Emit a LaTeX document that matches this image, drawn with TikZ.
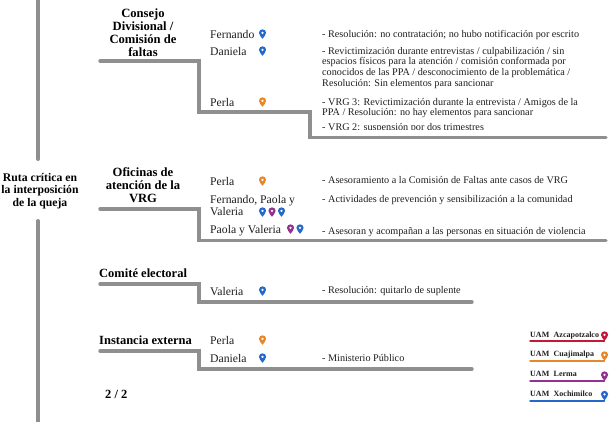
\documentclass[tikz,border=0pt]{standalone}
\usepackage{fontspec}
\setmainfont{Liberation Serif}
\definecolor{railgray}{HTML}{8F8F8F}
\definecolor{uamblue}{HTML}{2469C8}
\definecolor{uamorange}{HTML}{E8872A}
\definecolor{uampurple}{HTML}{94308F}
\definecolor{uamred}{HTML}{C0193A}
\definecolor{inktext}{HTML}{1E1E1E}
\tikzset{
  rail/.style={draw=railgray,line width=3.4pt,line join=miter,line cap=round},
  trunk/.style={draw=railgray,line width=4pt,line cap=round},
  head/.style={inner sep=0pt,align=center,font=\fontsize{12.6}{13}\selectfont\bfseries,text=black},
  headr/.style={inner sep=0pt,align=center,font=\fontsize{11.7}{12.5}\selectfont\bfseries,text=black},
  headl/.style={inner sep=0pt,anchor=base west,font=\fontsize{12.5}{13}\selectfont\bfseries,text=black},
  who/.style={inner sep=0pt,anchor=base west,font=\fontsize{11.7}{11.7}\selectfont,text=inktext},
  desc/.style={inner sep=0pt,anchor=base west,font=\fontsize{10.2}{11}\selectfont,text=inktext},
  leg/.style={inner sep=0pt,anchor=base west,font=\fontsize{8}{9}\selectfont\bfseries,text=inktext},
  legline/.style={line width=1.5pt,line cap=round,line join=round},
  pics/pin/.style={code={
    \fill[#1] (0,4.8) .. controls (-1.2,2.8) and (-3.6,1.0) .. (-3.6,-1.2)
      .. controls (-3.6,-3.2) and (-1.9,-4.7) .. (0,-4.7)
      .. controls (1.9,-4.7) and (3.6,-3.2) .. (3.6,-1.2)
      .. controls (3.6,1.0) and (1.2,2.8) .. (0,4.8) -- cycle;
    \fill[white] (0,-1.2) circle (1.3);
  }}
}
\begin{document}
\begin{tikzpicture}[x=1pt,y=-1pt]
\useasboundingbox (0,0) rectangle (611,421);
% trunk
\clip (0,0) rectangle (611,421);
\draw[trunk] (38,-6) -- (38,159);
\draw[trunk] (38,221) -- (38,428);
% rails
\draw[rail] (100,61) -- (199,61) -- (199,112) -- (310,112) -- (310,137.5) -- (606,137.5);
\draw[rail] (100,209) -- (199,209) -- (199,240.5) -- (606,240.5);
\draw[rail] (100,284) -- (199,284) -- (199,302) -- (472,302);
\draw[rail] (100,351) -- (199,351) -- (199,369) -- (472,369);
% heads
\node[headr] (ruta) at (40,191) {Ruta crítica en\\la interposición\\de la queja};
\node[head] (consejo) at (143,32.5) {Consejo\\Divisional /\\Comisión de\\faltas};
\node[head] (oficinas) at (143,185) {Oficinas de\\atención de la\\VRG};
\node[headl] (comite) at (99,277) {Comité electoral};
\node[headl] (instancia) at (99,344) {Instancia externa};
\node[headl] (pag) at (105,398) {2 / 2};
% people
\node[who] (p1) at (210,38) {Fernando};
\node[who] (p2) at (210,55) {Daniela};
\node[who] (p3) at (210,106) {Perla};
\node[who] (p4) at (210,185) {Perla};
\node[who] (p5) at (210,203) {Fernando, Paola y};
\node[who] (p5b) at (210,215) {Valeria};
\node[who] (p6) at (210,233) {Paola y Valeria};
\node[who] (p7) at (210,295) {Valeria};
\node[who] (p8) at (210,344) {Perla};
\node[who] (p9) at (210,362) {Daniela};
% pins
\pic at (262.5,34) {pin=uamblue};
\pic at (262.5,51) {pin=uamblue};
\pic at (262.5,102) {pin=uamorange};
\pic at (262.5,181) {pin=uamorange};
\pic at (262.5,212) {pin=uamblue};
\pic at (272,212) {pin=uampurple};
\pic at (281.5,212) {pin=uamblue};
\pic at (290.5,229) {pin=uampurple};
\pic at (300,229) {pin=uamblue};
\pic at (262.5,291) {pin=uamblue};
\pic at (262.5,340) {pin=uamorange};
\pic at (262.5,358) {pin=uamblue};
% descriptions
\node[desc] (d1) at (322,37) {- Resolución: no contratación; no hubo notificación por escrito};
\node[desc] (d2a) at (322,54) {- Revictimización durante entrevistas / culpabilización / sin};
\node[desc] (d2b) at (322,64.5) {espacios físicos para la atención / comisión conformada por};
\node[desc] (d2c) at (322,75) {conocidos de las PPA / desconocimiento de la problemática /};
\node[desc] (d2d) at (322,86) {Resolución: Sin elementos para sancionar};
\node[desc] (d3a) at (322,105) {- VRG 3: Revictimización durante la entrevista / Amigos de la};
\node[desc] (d3b) at (322,115.5) {PPA / Resolución: no hay elementos para sancionar};
\node[desc] (d4) at (322,130.5) {- VRG 2: suspensión por dos trimestres};
\fill[white] (320,130) rectangle (500,135.5);
\node[desc] (d5) at (322,183.5) {- Asesoramiento a la Comisión de Faltas ante casos de VRG};
\node[desc] (d6) at (322,202.5) {- Actividades de prevención y sensibilización a la comunidad};
\node[desc] (d7) at (322,234) {- Asesoran y acompañan a las personas en situación de violencia};
\node[desc] (d8) at (322,293.5) {- Resolución: quitarlo de suplente};
\node[desc] (d9) at (322,361) {- Ministerio Público};
% legend
\node[leg] (l1) at (530,337) {UAM\hspace{0.55em}Azcapotzalco};
\node[leg] (l2) at (530,356.5) {UAM\hspace{0.55em}Cuajimalpa};
\node[leg] (l3) at (530,376.5) {UAM\hspace{0.55em}Lerma};
\node[leg] (l4) at (530,396) {UAM\hspace{0.55em}Xochimilco};
\draw[legline,uamred] (530,341) -- (604.5,341) -- (604.5,336);
\draw[legline,uamorange] (530,361) -- (604.5,361) -- (604.5,356);
\draw[legline,uampurple] (530,381) -- (604.5,381) -- (604.5,376);
\draw[legline,uamblue] (530,401) -- (604.5,401) -- (604.5,396);
\pic at (604.5,336) {pin=uamred};
\pic at (604.5,356) {pin=uamorange};
\pic at (604.5,376) {pin=uampurple};
\pic at (604.5,395.5) {pin=uamblue};
\end{tikzpicture}
\end{document}
